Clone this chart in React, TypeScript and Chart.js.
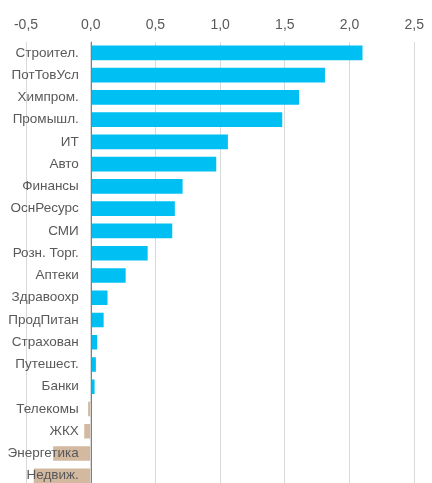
import React, { useEffect, useRef } from "react";
import { Chart, registerables } from "chart.js";

Chart.register(...registerables);

const categories = [
  "Строител.", "ПотТовУсл", "Химпром.", "Промышл.", "ИТ", "Авто", "Финансы",
  "ОснРесурс", "СМИ", "Розн. Торг.", "Аптеки", "Здравоохр", "ПродПитан",
  "Страхован", "Путешест.", "Банки", "Телекомы", "ЖКХ", "Энергетика", "Недвиж.",
];
const values = [
  2.1, 1.81, 1.61, 1.48, 1.06, 0.97, 0.71, 0.65, 0.63, 0.44, 0.27, 0.13, 0.1,
  0.05, 0.04, 0.03, -0.02, -0.05, -0.29, -0.44,
];
const xTicks = [-0.5, 0, 0.5, 1.0, 1.5, 2.0, 2.5];

const POS = "#00BFF3";
const NEG = "#D2B9A0";
const TEXT = "#595959";
const FONT = "'Liberation Sans', Arial, sans-serif";

export default function App() {
  const ref = useRef<HTMLCanvasElement | null>(null);

  useEffect(() => {
    if (!ref.current) return;
    const zeroLine = {
      id: "zeroLine",
      afterDatasetsDraw(chart: any) {
        const { ctx, chartArea, scales } = chart;
        const x = Math.round(scales.x.getPixelForValue(0)) + 0.5;
        ctx.save();
        ctx.strokeStyle = "#808080";
        ctx.lineWidth = 1;
        ctx.beginPath();
        ctx.moveTo(x, chartArea.top);
        ctx.lineTo(x, chartArea.bottom);
        ctx.stroke();
        ctx.restore();
      },
    };
    const chart = new Chart(ref.current, {
      type: "bar",
      data: {
        labels: categories,
        datasets: [
          {
            data: values,
            backgroundColor: values.map((v) => (v >= 0 ? POS : NEG)),
            borderWidth: 0,
            categoryPercentage: 1,
            barPercentage: 0.66,
          },
        ],
      },
      options: {
        indexAxis: "y",
        animation: false,
        responsive: false,
        maintainAspectRatio: false,
        layout: { padding: { left: 26, right: 14, top: 9, bottom: 0 } },
        plugins: { legend: { display: false }, tooltip: { enabled: false } },
        scales: {
          x: {
            type: "linear",
            position: "top",
            min: xTicks[0],
            max: xTicks[xTicks.length - 1],
            afterBuildTicks: (scale: any) => {
              scale.ticks = xTicks.map((v) => ({ value: v }));
            },
            ticks: {
              color: TEXT,
              font: { family: FONT, size: 14 },
              padding: 8,
              callback: (v: any) => Number(v).toFixed(1).replace(".", ","),
            },
            grid: { color: "#D9D9D9", lineWidth: 1, drawTicks: false },
            border: { display: false },
          },
          y: {
            type: "category",
            position: { x: -0.092 } as any,
            ticks: {
              color: TEXT,
              font: { family: FONT, size: 13.5 },
              padding: 0,
              autoSkip: false,
              z: 2,
            },
            grid: { display: false, drawTicks: false },
            border: { display: false },
          },
        },
      },
      plugins: [zeroLine],
    });
    return () => chart.destroy();
  }, []);

  return (
    <div
      style={{
        position: "fixed",
        left: 0,
        top: 0,
        width: 432,
        height: 483,
        overflow: "hidden",
        background: "#fff",
      }}
    >
      <canvas ref={ref} width={432} height={495} style={{ display: "block" }} />
    </div>
  );
}
